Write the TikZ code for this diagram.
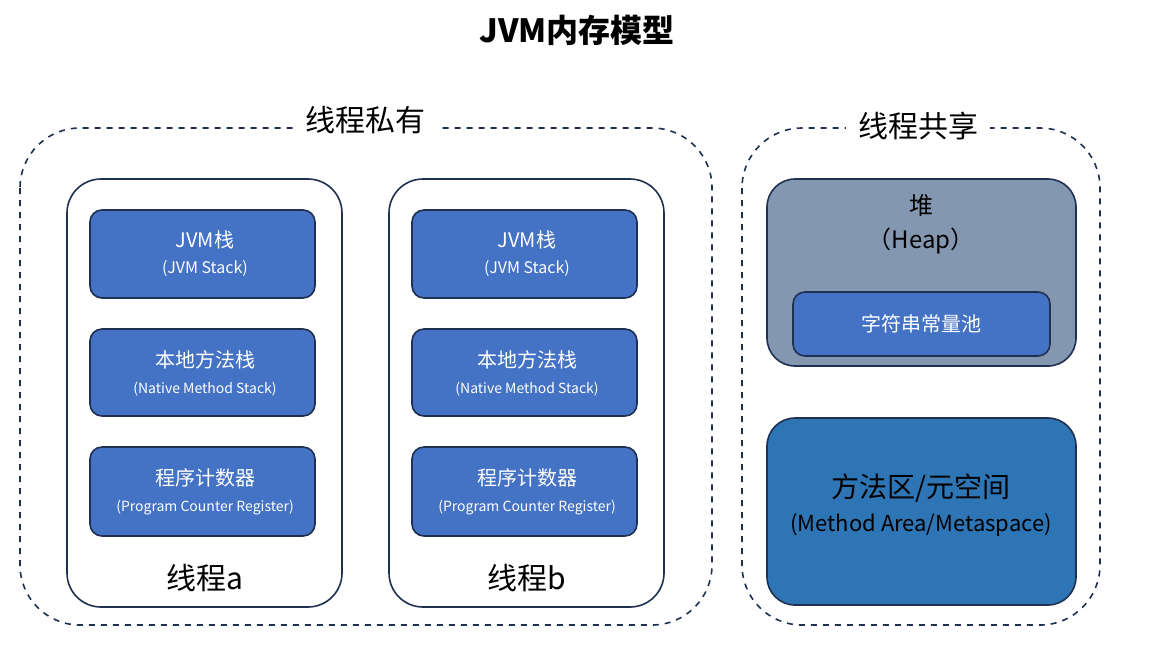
\documentclass[tikz,border=0pt]{standalone}
\usepackage{fontspec}
\setmainfont{Noto Sans CJK SC}
\definecolor{navy}{HTML}{1F3050}
\definecolor{boxblue}{HTML}{4472C4}
\definecolor{heapgrey}{HTML}{8497B0}
\definecolor{areablue}{HTML}{2E75B6}
\begin{document}
\begin{tikzpicture}[x=0.5pt,y=-0.5pt,
  zone/.style={draw=navy, dashed, thick, rounded corners=30pt},
  thread/.style={draw=navy, thick, fill=white, rounded corners=17pt},
  part/.style={draw=navy, thick, fill=boxblue, rounded corners=6pt},
  zlabel/.style={fill=white, inner xsep=6pt, font=\fontsize{15}{18}\selectfont}]
\useasboundingbox (0,0) rectangle (1155,660);
\node[font=\fontsize{16}{19}\selectfont\bfseries] (title) at (577,30) {JVM内存模型};
% zones
\draw[zone] (20,128) rectangle (712,625);
\draw[zone] (742,128) rectangle (1100,625);
\node[zlabel] (lp) at (365,120) {线程私有};
\node[zlabel] (ls) at (918,126) {线程共享};
% threads
\foreach \x/\n in {67/a,389/b}{
  \draw[thread] (\x,179) rectangle ++(275,428);
  \node[font=\fontsize{15}{18}\selectfont] (t\n) at (\x+138,578) {线程\n};
  \draw[part] (\x+23,210) rectangle ++(225,88);
  \node[text=white, align=center, font=\fontsize{10}{14}\selectfont] (s\n) at (\x+138,254)
    {JVM栈\\[-1pt]{\fontsize{8}{10}\selectfont (JVM Stack)}};
  \draw[part] (\x+23,329) rectangle ++(225,87);
  \node[text=white, align=center, font=\fontsize{10}{14}\selectfont] (n\n) at (\x+138,373)
    {本地方法栈\\[-1pt]{\fontsize{7}{9}\selectfont (Native Method Stack)}};
  \draw[part] (\x+23,447) rectangle ++(225,89);
  \node[text=white, align=center, font=\fontsize{10}{14}\selectfont] (p\n) at (\x+138,492)
    {程序计数器\\[-1pt]{\fontsize{7}{9}\selectfont (Program Counter Register)}};
}
% heap
\draw[draw=navy, thick, fill=heapgrey, rounded corners=14pt] (767,179) rectangle (1076,366);
\node[align=center, font=\fontsize{12}{17}\selectfont] (heap) at (921,224) {堆\\（Heap）};
\draw[part] (793,292) rectangle (1050,356);
\node[text=white, font=\fontsize{10}{12}\selectfont] (pool) at (921,324) {字符串常量池};
% method area
\draw[draw=navy, thick, fill=areablue, rounded corners=14pt] (767,418) rectangle (1076,605);
\node[align=center, font=\fontsize{14}{17}\selectfont] (meta) at (921,505)
  {方法区/元空间\\{\fontsize{11}{14}\selectfont (Method Area/Metaspace)}};
\end{tikzpicture}
\end{document}
